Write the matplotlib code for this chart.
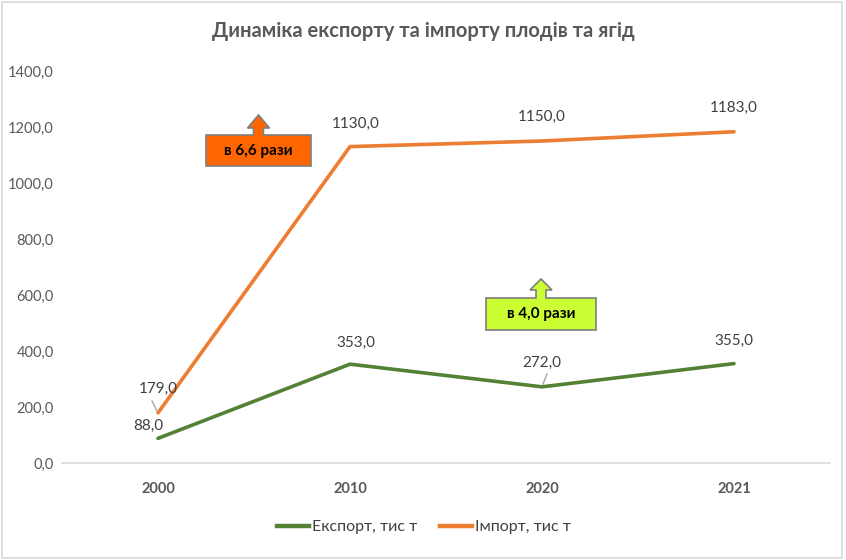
"""Export/import dynamics of fruits and berries (Ukraine)."""

import matplotlib

matplotlib.use("Agg")
import matplotlib.pyplot as plt
from matplotlib.patches import Polygon, Rectangle
from matplotlib.lines import Line2D

years = ["2000", "2010", "2020", "2021"]
export_vals = [88.0, 353.0, 272.0, 355.0]
import_vals = [179.0, 1130.0, 1150.0, 1183.0]
y_ticks = [0, 200, 400, 600, 800, 1000, 1200, 1400]

TITLE = "Динаміка експорту та імпорту плодів та ягід"
EXPORT_LABEL = "Експорт, тис т"
IMPORT_LABEL = "Імпорт, тис т"
GREEN = "#548235"
ORANGE = "#ED7D31"
TEXT = "#595959"

W, H = 846, 560
plt.rcParams["font.family"] = ["Lato", "DejaVu Sans"]

fig = plt.figure(figsize=(W / 100, H / 100), dpi=100)
ax = fig.add_axes([62 / W, 97 / H, (830 - 62) / W, (463 - 71) / H])

x = list(range(len(years)))
ax.plot(x, export_vals, color=GREEN, linewidth=2.6, solid_capstyle="round")
ax.plot(x, import_vals, color=ORANGE, linewidth=2.6, solid_capstyle="round")

ax.set_xlim(-0.5, len(years) - 0.5)
ax.set_ylim(0, 1400)
ax.set_yticks(y_ticks)
ax.set_yticklabels([f"{v:.1f}".replace(".", ",") for v in y_ticks], color=TEXT, fontsize=10.5)
ax.set_xticks(x)
ax.set_xticklabels(years, color=TEXT, fontsize=10.5, fontweight="bold")
ax.tick_params(axis="both", length=0)
ax.tick_params(axis="x", pad=14)
ax.tick_params(axis="y", pad=6)
for side in ("top", "right", "left"):
    ax.spines[side].set_visible(False)
ax.spines["bottom"].set_color("#d9d9d9")
ax.spines["bottom"].set_linewidth(1.2)


def fmt(v):
    return f"{v:.1f}".replace(".", ",")


# data labels (offsets in points)
lab_kw = dict(fontsize=11, color="#404040", ha="center", va="center", textcoords="offset points")
exp_off = [(-7, 9), (4, 15), (0, 17), (0, 16)]
imp_off = [(0, 17), (4, 16), (0, 17), (0, 17)]
for i in x:
    ax.annotate(fmt(export_vals[i]), (i, export_vals[i]), xytext=exp_off[i], **lab_kw)
    ax.annotate(fmt(import_vals[i]), (i, import_vals[i]), xytext=imp_off[i], **lab_kw)

# leader lines for the two labels set away from the line
fig.add_artist(Line2D([152 / W, 157 / W], [1 - 401 / H, 1 - 411 / H], color="#a6a6a6", lw=1))
fig.add_artist(Line2D([547 / W, 543 / W], [1 - 374 / H, 1 - 384 / H], color="#a6a6a6", lw=1))


def callout(x0, x1, y_top, y_bot, tip_y, head_y, head_half, stem_half, face, text):
    cx = (x0 + x1) / 2
    pts = [
        (x0, y_top), (cx - stem_half, y_top), (cx - stem_half, head_y),
        (cx - head_half, head_y), (cx, tip_y), (cx + head_half, head_y),
        (cx + stem_half, head_y), (cx + stem_half, y_top), (x1, y_top),
        (x1, y_bot), (x0, y_bot),
    ]
    pts = [(px / W, 1 - py / H) for px, py in pts]
    fig.add_artist(Polygon(pts, closed=True, facecolor=face, edgecolor="#7f7f7f", lw=1.2,
                           transform=fig.transFigure))
    fig.text(cx / W, 1 - (y_top + y_bot) / 2 / H, text, ha="center", va="center",
             fontsize=11, fontweight="bold", color="black")


callout(206, 311, 135, 166, 115, 128, 11, 5, "#FF6600", "в 6,6 рази")
callout(486, 596, 298, 330, 279, 290, 11, 5, "#CCFF33", "в 4,0 рази")

fig.text(423 / W, 1 - 31 / H, TITLE, ha="center", va="center", fontsize=14.5,
         fontweight="bold", color=TEXT)

handles = [Line2D([], [], color=GREEN, lw=3.2), Line2D([], [], color=ORANGE, lw=3.2)]
fig.legend(handles, [EXPORT_LABEL, IMPORT_LABEL], loc="center", bbox_to_anchor=(424 / W, 1 - 527 / H),
           ncol=2, frameon=False, fontsize=11.5, handlelength=2.0, handletextpad=0.2, columnspacing=1.4,
           labelcolor="#404040")

# thin frame around the chart area
fig.add_artist(Rectangle((1.5 / W, 2.5 / H), (842 - 1.5) / W, 1 - 4 / H, fill=False,
                         edgecolor="#d9d9d9", lw=1.2, transform=fig.transFigure))

fig.savefig("out.png", dpi=100, facecolor="white")
